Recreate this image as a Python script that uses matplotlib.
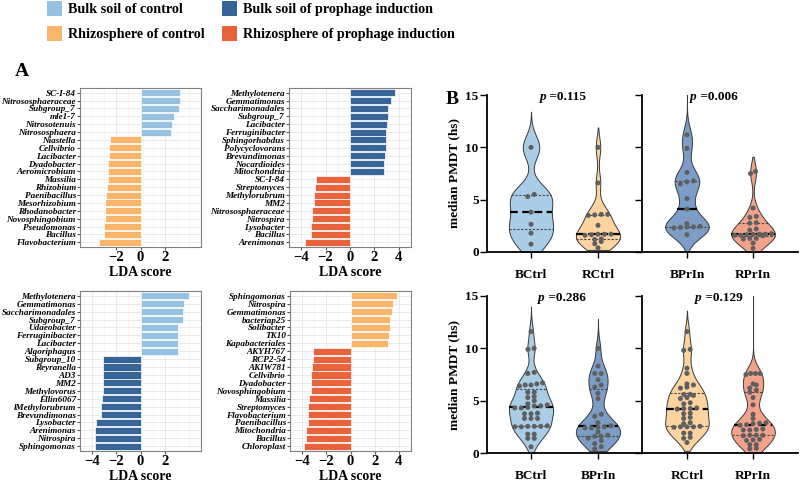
import numpy as np
import matplotlib
matplotlib.use("Agg")
import matplotlib.pyplot as plt
from matplotlib.patches import Rectangle

plt.rcParams['font.family'] = ['Liberation Serif', 'DejaVu Serif']

# colours
c_bctrl = "#96C1E1"
c_bprin = "#386597"
c_rctrl = "#FBB56B"
c_rprin = "#E8623C"
v_bctrl = "#A9CCE7"
v_bprin = "#7C9DC6"
v_rctrl = "#FDD3A0"
v_rprin = "#F3A28A"

legend_labels = ["Bulk soil of control", "Bulk soil of prophage induction",
                 "Rhizosphere of control", "Rhizosphere of prophage induction"]
legend_colors = [c_bctrl, c_bprin, c_rctrl, c_rprin]

# ---- LDA data (top to bottom) ----
lda1_taxa = ["SC-I-84", "Nitrososphaeraceae", "Subgroup_7", "mle1-7", "Nitrosotenuis",
             "Nitrososphaera", "Niastella", "Cellvibrio", "Lacibacter", "Dyadobacter",
             "Aeromicrobium", "Massilia", "Rhizobium", "Paenibacillus", "Mesorhizobium",
             "Rhodanobacter", "Novosphingobium", "Pseudomonas", "Bacillus", "Flavobacterium"]
lda1_scores = [3.29, 3.23, 3.15, 2.79, 2.57, 2.48, -2.48, -2.59, -2.59, -2.67,
               -2.69, -2.71, -2.79, -2.87, -2.91, -2.93, -2.95, -3.01, -3.01, -3.45]

lda2_taxa = ["Methylotenera", "Gemmatimonas", "Saccharimonadales", "Subgroup_7", "Lacibacter",
             "Ferruginibacter", "Sphingorhabdus", "Polycyclovorans", "Brevundimonas", "Nocardioides",
             "Mitochondria", "SC-I-84", "Streptomyces", "Methylorubrum", "MM2",
             "Nitrososphaeraceae", "Nitrospira", "Lysobacter", "Bacillus", "Arenimonas"]
lda2_scores = [3.72, 3.34, 3.15, 3.08, 3.06, 2.97, 2.95, 2.91, 2.86, 2.82,
               2.75, -2.75, -2.89, -2.95, -2.99, -3.10, -3.15, -3.17, -3.19, -3.67]

lda3_taxa = ["Methylotenera", "Gemmatimonas", "Saccharimonadales", "Subgroup_7", "Udaeobacter",
             "Ferruginibacter", "Lacibacter", "Algoriphagus", "Subgroup_10", "Reyranella",
             "AD3", "MM2", "Methylovorus", "Ellin6067", "lMethylorubrum",
             "Brevundimonas", "Lysobacter", "Arenimonas", "Nitrospira", "Sphingomonas"]
lda3_scores = [4.0, 3.56, 3.49, 3.49, 3.12, 3.12, 3.09, 3.07, -3.09, -3.12,
               -3.12, -3.12, -3.14, -3.21, -3.28, -3.30, -3.67, -3.72, -3.74, -3.79]

lda4_taxa = ["Sphingomonas", "Nitrospira", "Gemmatimonas", "bacteriap25", "Solibacter",
             "TK10", "Kapabacteriales", "AKYH767", "RCP2-54", "AKIW781",
             "Cellvibrio", "Dyadobacter", "Novosphingobium", "Massilia", "Streptomyces",
             "Flavobacterium", "Paenibacillus", "Mitochondria", "Bacillus", "Chloroplast"]
lda4_scores = [3.82, 3.55, 3.41, 3.28, 3.23, 3.16, 3.14, -3.12, -3.14, -3.16,
               -3.23, -3.25, -3.30, -3.41, -3.50, -3.53, -3.53, -3.64, -3.66, -3.84]

# ---- PMDT data ----
top_groups = [["BCtrl", "RCtrl"], ["BPrIn", "RPrIn"]]
bot_groups = [["BCtrl", "BPrIn"], ["RCtrl", "RPrIn"]]
p_top = ["0.115", "0.006"]
p_bot = ["0.286", "0.129"]

bctrl_top = [10.0, 5.3, 5.5, 3.8, 2.65, 1.8, 0.75]
rctrl_top = [10.0, 6.6, 3.6, 3.55, 3.6, 3.5, 2.55, 1.7, 1.7, 1.7, 1.65, 1.6, 1.25, 1.2, 1.0, 0.8, 0.4]
bprin_top = [11.2, 9.9, 7.6, 6.8, 6.7, 6.5, 5.1, 4.1, 2.7, 2.45, 2.4, 2.35, 2.3, 2.4, 1.65]
rprin_top = [7.7, 7.5, 4.2, 3.4, 3.3, 2.8, 2.75, 2.2, 2.1, 1.75, 1.7, 1.7, 1.7, 1.65, 1.6,
             1.6, 1.55, 1.3, 1.3, 1.25, 0.85, 0.35]

bctrl_bot = [11.6, 10.0, 9.9, 7.7, 7.6, 6.7, 6.6, 6.5, 6.5, 6.4, 5.8, 5.8, 5.4, 5.3, 5.0, 4.7,
             4.6, 4.5, 4.5, 4.35, 4.3, 4.3, 3.8, 3.75, 3.75, 3.3, 3.3, 3.3, 2.6, 2.55, 2.55,
             2.55, 2.5, 2.5, 1.8, 1.8, 1.4, 1.4, 0.6]
bprin_bot = [10.0, 8.3, 7.6, 7.6, 7.0, 6.5, 6.3, 5.7, 5.2, 3.7, 3.5, 2.9, 2.6, 2.5, 2.45,
             2.4, 2.4, 2.0, 1.7, 1.6, 1.6, 1.4, 1.2, 0.9, 0.6, 0.4]
rctrl_bot = [11.6, 9.9, 9.8, 8.1, 7.6, 6.6, 6.5, 6.3, 6.2, 5.6, 5.6, 5.5, 5.3, 5.2, 4.8, 4.7,
             4.3, 4.25, 4.25, 4.2, 3.8, 3.75, 3.4, 3.3, 2.9, 2.8, 2.55, 2.5, 2.5, 2.5, 2.45,
             1.9, 1.9, 1.5, 1.4, 1.0]
rprin_bot = [7.6, 7.6, 7.6, 7.5, 6.6, 6.5, 6.2, 6.0, 5.8, 5.3, 4.6, 3.7, 3.3, 2.9, 2.85, 2.8,
             2.7, 2.65, 2.3, 2.25, 2.2, 2.2, 1.7, 1.7, 1.7, 1.65, 1.3, 1.25, 1.2, 0.8, 0.8,
             0.45, 0.4]

# extent of each violin outline (low, high)
ext_top = [[(0.0, 13.4), (0.2, 11.9)], [(0.0, 15.0), (0.0, 9.1)]]
ext_bot = [[(0.0, 14.0), (0.2, 12.8)], [(0.2, 13.6), (0.0, 15.0)]]

W, H = 800, 482
fig = plt.figure(figsize=(8, 4.82), dpi=100)


def fx(px):
    return px / W


def fy(py):
    return 1 - py / H


# legend
leg_pos = [(47, 1), (222, 1), (47, 26), (222, 26)]
for (lx, ly), lab, col in zip(leg_pos, legend_labels, legend_colors):
    fig.add_artist(Rectangle((fx(lx), fy(ly + 15)), 15 / W, 15 / H,
                             transform=fig.transFigure, color=col, lw=0))
    fig.text(fx(lx + 21), fy(ly + 8.5), lab, fontsize=10.2, fontweight='bold', va='center')

fig.text(fx(22), fy(72), "A", fontsize=14, fontweight='bold', ha='center', va='center')
fig.text(fx(452), fy(100), "B", fontsize=14, fontweight='bold', ha='center', va='center')


def lda_panel(box, taxa, scores, pos_col, neg_col, xlim, xticks):
    l, t, r, b = box
    ax = fig.add_axes([fx(l), fy(b), (r - l) / W, (b - t) / H])
    n = len(taxa)
    y = np.arange(n)[::-1]
    cols = [pos_col if s > 0 else neg_col for s in scores]
    ax.barh(y, scores, height=0.9, color=cols, edgecolor='white', linewidth=0.5, zorder=3)
    ax.set_yticks(y)
    ax.set_yticklabels(taxa, fontsize=6.6, fontweight='bold', fontstyle='italic')
    ax.set_ylim(-0.6, n - 0.4)
    ax.set_xlim(xlim)
    ax.set_xticks(xticks)
    ax.set_xticks(np.arange(-5, 6, 1), minor=True)
    ax.set_axisbelow(True)
    ax.grid(True, which='major', color='#E6E6E6', lw=0.6)
    ax.grid(True, which='minor', axis='x', color='#F0F0F0', lw=0.4)
    ax.tick_params(axis='x', which='minor', length=0)
    ax.tick_params(axis='x', labelsize=10.5, length=2, pad=1, color='#555555')
    ax.tick_params(axis='y', length=2, pad=1, color='#555555')
    for tl in ax.get_xticklabels():
        tl.set_fontweight('bold')
    ax.set_xlabel("LDA score", fontsize=10, fontweight='bold', labelpad=1)
    for s in ax.spines.values():
        s.set_color('#808080')
        s.set_linewidth(0.8)


lda_panel((80, 88, 201, 247), lda1_taxa, lda1_scores, c_bctrl, c_rctrl, (-3.76, 3.58), [-2, 0, 2])
lda_panel((289, 88, 411, 247), lda2_taxa, lda2_scores, c_bprin, c_rprin, (-3.93, 4.07), [-4, -2, 0, 2, 4])
lda_panel((80, 291, 201, 451), lda3_taxa, lda3_scores, c_bctrl, c_bprin, (-4.07, 4.37), [-4, -2, 0, 2])
lda_panel((290, 291, 411, 451), lda4_taxa, lda4_scores, c_rctrl, c_rprin, (-4.07, 4.14), [-4, -2, 0, 2, 4])


def half_width(vals, grid):
    v = np.asarray(vals, float)
    bw = 1.65 * len(v) ** (-0.2)
    d = np.exp(-0.5 * ((grid[None, :] - v[:, None]) / bw) ** 2).sum(axis=0)
    return d / d.max() * 0.33


def spread(vals, grid, w, xpx, step_px=6.5, tol=0.32):
    # put points with nearly equal values in a row across the violin
    v = np.asarray(vals, float)
    order = np.argsort(v)
    xs = np.zeros(len(v))
    rows = []
    for i in order:
        if rows and v[i] - v[rows[-1][0]] < tol:
            rows[-1].append(i)
        else:
            rows.append([i])
    for row in rows:
        k = len(row)
        hw = np.interp(np.mean(v[row]), grid, w) * 0.85
        step = step_px / xpx
        if k > 1:
            step = min(step, 2 * hw / (k - 1))
        for j, i in enumerate(row):
            xs[i] = (j - (k - 1) / 2) * step
    return xs


def violin_panel(box, names, datasets, colors, exts, xlim, ptxt, px_start, first):
    l, t, r, b = box
    ax = fig.add_axes([fx(l), fy(b), (r - l) / W, (b - t) / H])
    xpx = (r - l) / (xlim[1] - xlim[0])
    for i, (vals, col, (lo, hi)) in enumerate(zip(datasets, colors, exts)):
        grid = np.linspace(lo, hi, 300)
        w = half_width(vals, grid)
        ax.fill_betweenx(grid, i - w, i + w, facecolor=col, edgecolor='#3A3A3A', lw=0.7, zorder=2)
        q1, med, q3 = np.percentile(vals, [25, 50, 75])
        for q, ls, lw, c in [(q1, (0, (2, 1.5)), 0.8, '#444444'), (q3, (0, (2, 1.5)), 0.8, '#444444'),
                             (med, (0, (3.5, 2)), 1.6, 'black')]:
            hw = np.interp(q, grid, w)
            ax.plot([i - hw, i + hw], [q, q], color=c, ls=ls, lw=lw, zorder=3)
        xs = spread(vals, grid, w, xpx)
        ax.scatter(i + xs, vals, s=13, color='#5F5F5F', edgecolors='none', zorder=4)
    ax.set_xlim(xlim)
    ax.set_ylim(0, 15)
    ax.set_xticks([0, 1])
    ax.set_xticklabels(names, fontsize=9.5, fontweight='bold')
    ax.set_yticks([0, 5, 10, 15])
    ax.tick_params(axis='x', length=4, width=1, pad=8)
    ax.tick_params(axis='y', length=5, width=1, pad=1, labelsize=9.5)
    for tl in ax.get_yticklabels():
        tl.set_fontweight('bold')
    if first:
        ax.set_ylabel("median PMDT (hs)", fontsize=9.6, fontweight='bold', labelpad=4)
    else:
        ax.set_yticklabels([])
    for s in ['top', 'right']:
        ax.spines[s].set_visible(False)
    for s in ['left', 'bottom']:
        ax.spines[s].set_linewidth(1.3)
    ax.patch.set_alpha(0)
    tp = ax.text(px_start, 0.99, "p", transform=ax.transAxes, fontsize=9.5,
                 fontweight='bold', fontstyle='italic', va='center', ha='left')
    ax.annotate(" =" + ptxt, xy=(1, 0), xycoords=tp, va='bottom', ha='left',
                fontsize=9.5, fontweight='bold')
    return ax


violin_panel((487, 95, 642, 252), top_groups[0], [bctrl_top, rctrl_top], [v_bctrl, v_rctrl],
             ext_top[0], (-0.657, 1.657), p_top[0], 0.34, True)
violin_panel((642, 95, 798, 252), top_groups[1], [bprin_top, rprin_top], [v_bprin, v_rprin],
             ext_top[1], (-0.68, 1.68), p_top[1], 0.31, False)
violin_panel((487, 296, 642, 453), bot_groups[0], [bctrl_bot, bprin_bot], [v_bctrl, v_bprin],
             ext_bot[0], (-0.657, 1.657), p_bot[0], 0.33, True)
violin_panel((642, 296, 798, 453), bot_groups[1], [rctrl_bot, rprin_bot], [v_rctrl, v_rprin],
             ext_bot[1], (-0.68, 1.68), p_bot[1], 0.34, False)

fig.savefig("out.png", dpi=100)
